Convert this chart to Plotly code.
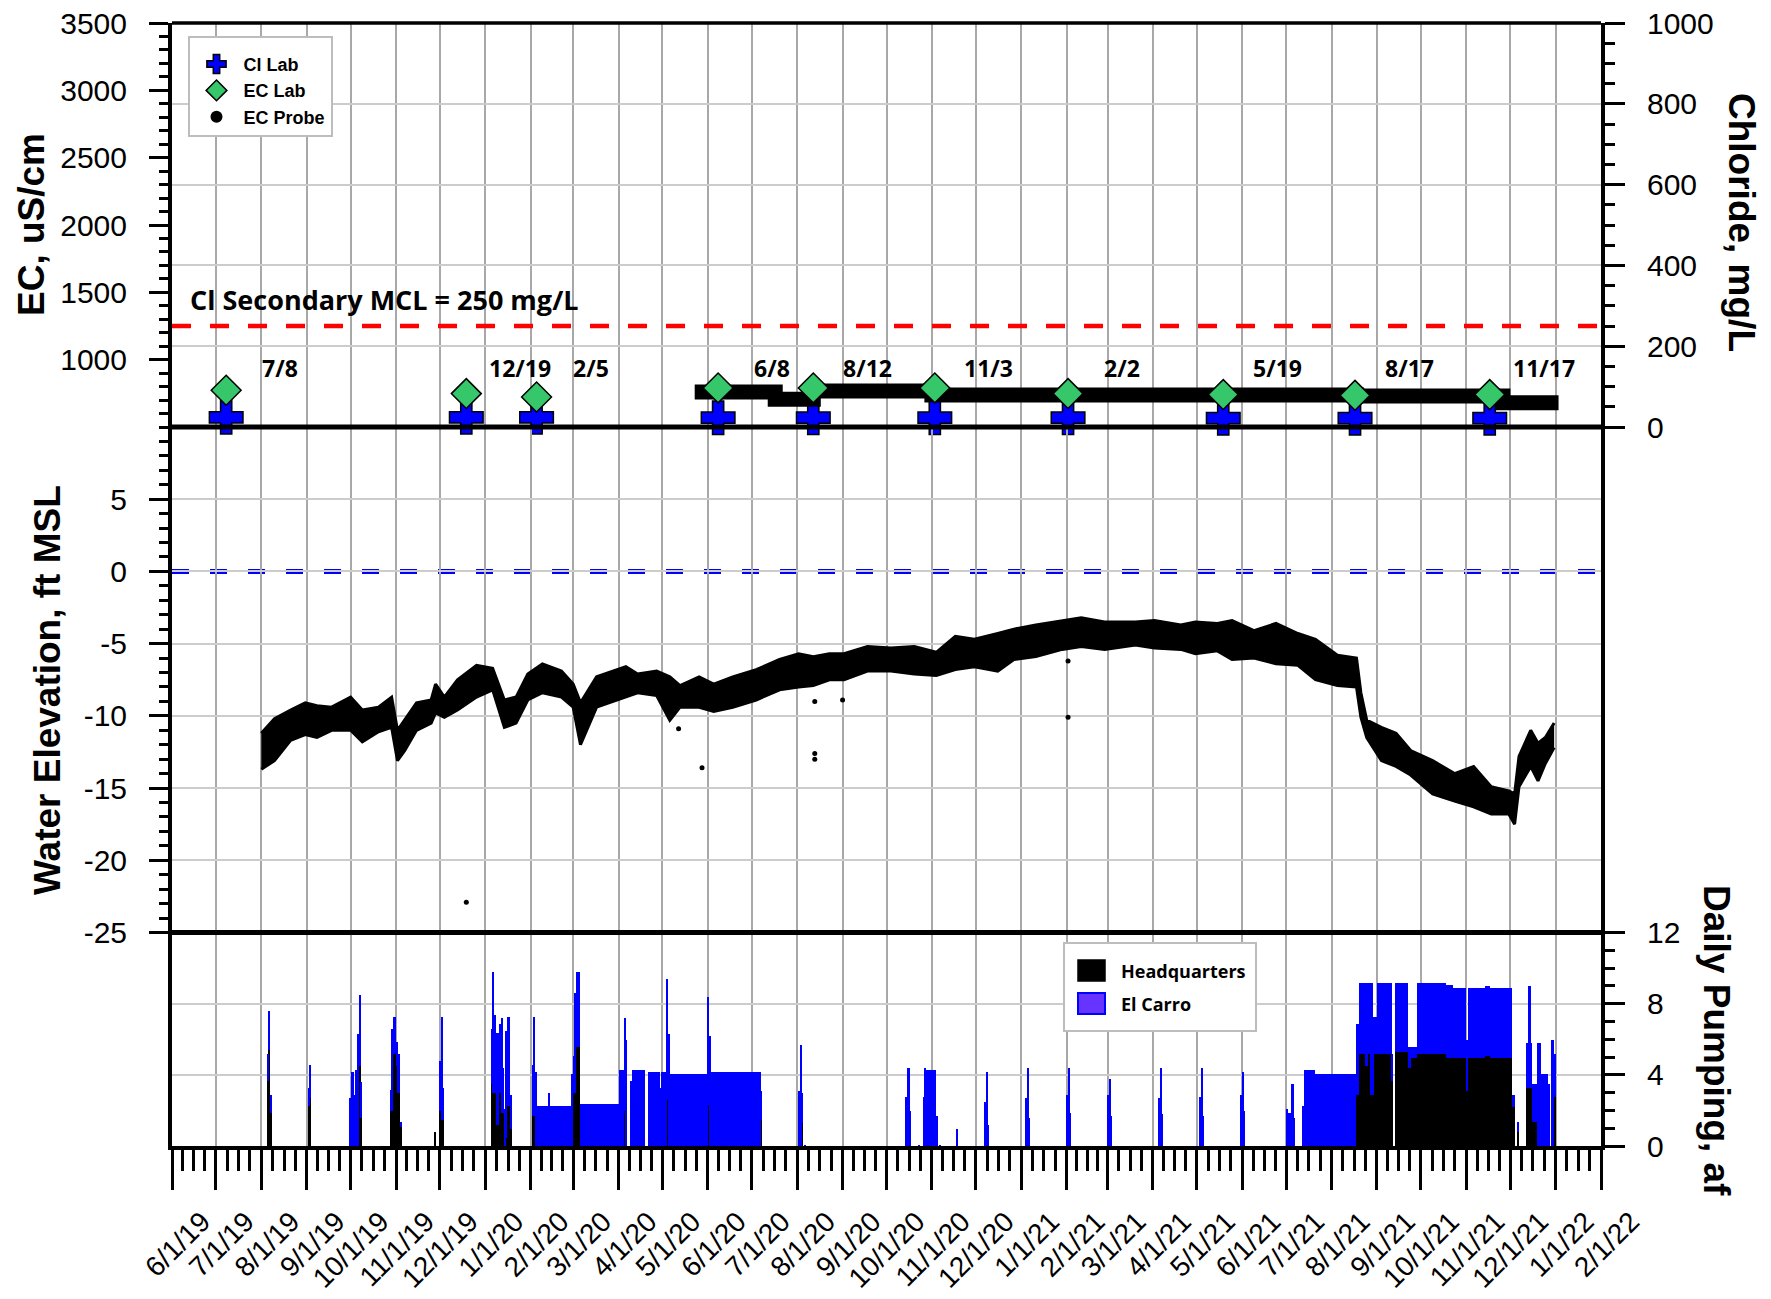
import pandas as pd
import plotly.graph_objects as go

# ---------------- data ----------------
sample_dates = ["2019-07-08", "2019-12-19", "2020-02-05", "2020-06-08", "2020-08-12",
                "2020-11-03", "2021-02-02", "2021-05-19", "2021-08-17", "2021-11-17"]
sample_labels = ["7/8", "12/19", "2/5", "6/8", "8/12", "11/3", "2/2", "5/19", "8/17", "11/17"]
cl_lab_mgL = [24, 24, 24, 23, 23, 23, 23, 22, 22, 22]
ec_lab_uScm = [773, 748, 723, 790, 790, 790, 748, 741, 735, 741]

ec_probe_dates = ["2020-05-23", "2020-07-17", "2020-08-12", "2020-11-01",
                  "2021-08-18", "2021-11-26", "2022-01-03"]
ec_probe_uScm = [760, 706, 767, 738, 730, 681, 681]

cl_secondary_mcl = 250
sea_level_ft = 0

wl_dates = ["2019-08-01", "2019-08-10", "2019-08-21", "2019-08-31", "2019-09-08", "2019-09-18",
            "2019-10-01", "2019-10-09", "2019-10-20", "2019-10-29", "2019-11-02", "2019-11-07",
            "2019-11-15", "2019-11-25", "2019-11-28", "2019-12-04", "2019-12-13", "2019-12-26",
            "2020-01-06", "2020-01-14", "2020-01-22", "2020-01-30", "2020-02-09", "2020-02-22",
            "2020-03-01", "2020-03-06", "2020-03-17", "2020-04-06", "2020-04-14", "2020-04-27",
            "2020-05-06", "2020-05-13", "2020-05-26", "2020-06-05", "2020-06-18", "2020-07-04",
            "2020-07-20", "2020-08-02", "2020-08-12", "2020-08-23", "2020-09-02", "2020-09-18",
            "2020-10-04", "2020-10-20", "2020-11-04", "2020-11-17", "2020-11-30", "2020-12-16",
            "2020-12-27", "2021-01-11", "2021-01-29", "2021-02-11", "2021-02-27", "2021-03-20",
            "2021-04-02", "2021-04-20", "2021-04-30", "2021-05-15", "2021-05-25", "2021-06-09",
            "2021-06-24", "2021-07-09", "2021-07-21", "2021-08-05", "2021-08-18", "2021-08-21",
            "2021-08-25", "2021-09-04", "2021-09-14", "2021-09-24", "2021-10-09", "2021-10-24",
            "2021-11-06", "2021-11-18", "2021-11-30", "2021-12-04", "2021-12-07", "2021-12-15",
            "2021-12-20", "2021-12-25", "2021-12-31"]
wl_top_ft = [-11.2, -10.2, -9.6, -9.1, -9.3, -9.4, -8.7, -9.6, -9.4, -8.7, -11.0, -10.3,
             -9.1, -8.9, -7.8, -8.7, -7.5, -6.5, -6.7, -8.9, -8.7, -7.1, -6.4, -6.9,
             -7.8, -9.1, -7.3, -6.6, -7.1, -6.9, -7.3, -7.9, -7.3, -7.8, -7.3, -6.8,
             -6.1, -5.7, -5.9, -5.7, -5.7, -5.2, -5.3, -5.2, -5.6, -4.5, -4.7, -4.3,
             -4.0, -3.7, -3.4, -3.2, -3.5, -3.5, -3.4, -3.7, -3.5, -3.6, -3.4, -4.1,
             -3.6, -4.3, -4.7, -5.8, -6.0, -8.4, -10.3, -10.8, -11.2, -12.4, -13.1, -14.0,
             -13.5, -14.9, -15.2, -15.4, -12.8, -11.0, -11.9, -11.5, -10.5]
wl_bottom_ft = [-13.7, -13.1, -11.7, -11.3, -11.5, -11.0, -11.0, -11.8, -11.1, -10.8, -13.1, -12.4,
                -11.0, -10.5, -9.8, -10.1, -9.6, -8.7, -8.2, -10.8, -10.5, -8.9, -8.4, -8.7,
                -9.4, -12.0, -9.4, -8.7, -8.4, -8.6, -10.3, -9.4, -9.4, -9.7, -9.4, -8.9,
                -8.2, -8.0, -7.9, -7.5, -7.5, -6.9, -6.9, -7.1, -7.2, -6.8, -6.6, -6.9,
                -6.1, -5.9, -5.4, -5.2, -5.4, -5.1, -5.3, -5.4, -5.7, -5.5, -6.1, -6.0,
                -6.4, -6.5, -7.5, -7.9, -8.0, -10.1, -11.5, -13.1, -13.5, -14.1, -15.4, -15.9,
                -16.3, -16.8, -16.8, -17.5, -14.9, -13.5, -14.5, -13.3, -12.2]
wl_outlier_dates = ["2019-12-19", "2020-05-12", "2020-05-28", "2020-08-13", "2020-08-13",
                    "2020-08-13", "2020-09-01", "2021-02-02", "2021-02-02"]
wl_outlier_ft = [-22.9, -10.9, -13.6, -9.0, -12.6, -13.0, -8.9, -6.2, -10.1]

# daily pumping, grouped in runs: start date, number of days, af per day
pump_start = ["2019-08-05", "2019-08-06", "2019-08-07", "2019-09-02", "2019-09-03", "2019-09-30",
              "2019-10-01", "2019-10-03", "2019-10-04", "2019-10-06", "2019-10-07", "2019-10-08",
              "2019-10-28", "2019-10-29", "2019-10-30", "2019-11-01", "2019-11-02", "2019-11-04",
              "2019-11-27", "2019-12-01", "2019-12-02", "2019-12-03", "2020-01-05", "2020-01-06",
              "2020-01-07", "2020-01-08", "2020-01-10", "2020-01-12", "2020-01-13", "2020-01-14",
              "2020-01-15", "2020-01-16", "2020-01-18", "2020-02-02", "2020-02-03", "2020-02-04",
              "2020-02-05", "2020-02-13", "2020-02-14", "2020-02-29", "2020-03-01", "2020-03-02",
              "2020-03-03", "2020-03-06", "2020-04-01", "2020-04-05", "2020-04-06", "2020-04-09",
              "2020-04-10", "2020-04-21", "2020-04-29", "2020-04-30", "2020-05-04", "2020-05-05",
              "2020-05-06", "2020-06-01", "2020-06-02", "2020-06-03", "2020-07-07", "2020-08-02",
              "2020-08-03", "2020-08-04", "2020-08-06", "2020-10-14", "2020-10-15", "2020-10-17",
              "2020-10-23", "2020-10-26", "2020-10-27", "2020-10-28", "2020-11-04", "2020-11-06",
              "2020-11-18", "2020-12-07", "2020-12-08", "2020-12-09", "2021-01-04", "2021-01-05",
              "2021-01-06", "2021-02-01", "2021-02-02", "2021-02-03", "2021-03-01", "2021-03-02",
              "2021-03-03", "2021-04-05", "2021-04-06", "2021-04-07", "2021-05-03", "2021-05-04",
              "2021-05-05", "2021-05-31", "2021-06-01", "2021-06-02", "2021-07-01", "2021-07-02",
              "2021-07-04", "2021-07-06", "2021-07-12", "2021-07-13", "2021-07-21", "2021-08-18",
              "2021-08-20", "2021-08-24", "2021-08-26", "2021-08-27", "2021-08-29", "2021-08-30",
              "2021-09-01", "2021-09-11", "2021-09-12", "2021-09-13", "2021-09-22", "2021-09-24",
              "2021-09-28", "2021-10-18", "2021-10-23", "2021-11-01", "2021-11-02", "2021-11-14",
              "2021-11-17", "2021-12-02", "2021-12-06", "2021-12-12", "2021-12-13", "2021-12-15",
              "2021-12-16", "2021-12-19", "2021-12-22", "2021-12-27", "2021-12-29", "2021-12-31"]
pump_days = [1, 1, 1, 1, 1, 1,
             2, 1, 2, 1, 1, 1,
             1, 1, 2, 1, 2, 1,
             1, 1, 1, 1, 1, 1,
             1, 2, 2, 1, 1, 1,
             1, 2, 1, 1, 1, 1,
             8, 1, 15, 1, 1, 1,
             3, 26, 4, 1, 1, 1,
             9, 8, 1, 4, 1, 1,
             26, 1, 1, 34, 1, 1,
             1, 1, 1, 1, 2, 1,
             1, 1, 1, 7, 1, 1,
             1, 1, 1, 1, 1, 1,
             1, 1, 1, 1, 1, 1,
             1, 1, 1, 1, 1, 1,
             1, 1, 1, 1, 1, 2,
             2, 1, 1, 8, 28, 2,
             4, 2, 1, 2, 1, 2,
             10, 1, 1, 9, 2, 4,
             20, 5, 9, 1, 12, 3,
             15, 2, 1, 1, 2, 1,
             3, 3, 5, 1, 2, 1]
headquarters_af = [3.7, 5.4, 1.9, 2.3, 2.7, 0,
                   0, 0, 0, 0, 4.5, 1.6,
                   2.0, 2.0, 5.2, 4.5, 3.0, 1.1,
                   0.8, 2.0, 1.5, 1.5, 3.5, 3.0,
                   3.0, 1.2, 3.0, 1.9, 1.9, 0,
                   0.5, 2.3, 1.0, 1.7, 1.7, 0,
                   0, 0, 0, 0, 3.0, 3.0,
                   5.6, 0, 0, 2.0, 0, 0,
                   0, 0, 0, 0, 2.6, 0,
                   0, 2.3, 0, 0, 1.5, 0,
                   0, 1.3, 0, 0, 0, 0,
                   0, 0, 0, 0, 0, 0,
                   0, 0, 0, 0, 0, 0,
                   0, 0, 0, 0, 0, 0,
                   0, 0, 0, 0, 0, 0,
                   0, 0, 0, 0, 0, 0,
                   0, 0, 0, 0, 0, 2.9,
                   5.2, 4.5, 5.2, 2.9, 2.9, 5.2,
                   5.2, 3.7, 0, 5.3, 4.4, 5.0,
                   5.2, 5.0, 5.0, 3.1, 5.0, 5.1,
                   5.0, 2.2, 0.8, 3.3, 3.3, 3.3,
                   1.4, 0, 0, 0, 0, 2.8]
el_carro_af = [1.5, 2.2, 1.0, 1.0, 1.9, 2.7,
               4.2, 2.9, 4.3, 6.3, 4.0, 2.0,
               1.2, 4.6, 2.1, 1.4, 2.2, 0.3,
               0, 2.8, 5.8, 1.8, 3.1, 6.8,
               4.4, 5.2, 3.9, 5.3, 2.5, 2.1,
               6.0, 5.0, 1.9, 2.9, 5.6, 4.2,
               2.3, 3.0, 2.3, 4.1, 2.1, 5.6,
               4.2, 2.4, 4.3, 5.2, 6.0, 3.7,
               4.3, 4.2, 3.3, 4.2, 6.8, 6.3,
               4.1, 6.1, 6.2, 4.2, 1.6, 3.1,
               5.7, 1.7, 0.1, 2.8, 4.4, 2.0,
               0.1, 2.8, 4.4, 4.3, 1.7, 0.1,
               1.0, 2.5, 4.2, 1.2, 2.7, 4.4,
               1.6, 2.9, 4.4, 1.9, 2.9, 3.8,
               1.7, 2.7, 4.4, 1.8, 2.8, 4.4,
               1.7, 2.9, 4.2, 2.0, 2.1, 1.9,
               3.5, 1.6, 2.3, 4.3, 4.1, 4.0,
               4.0, 4.7, 4.0, 6.3, 4.4, 2.1,
               4.0, 1.5, 0, 3.9, 1.2, 0.6,
               4.0, 4.1, 3.9, 2.9, 3.9, 3.9,
               3.9, 0.7, 0.6, 2.5, 5.7, 2.5,
               2.1, 5.8, 4.1, 3.5, 6.0, 2.4]

ec_ticks = [1000, 1500, 2000, 2500, 3000, 3500]
cl_ticks = [0, 200, 400, 600, 800, 1000]
wl_ticks = [-25, -20, -15, -10, -5, 0, 5]
wl_ticktext = ["-25", "-20", "-15", "-10", "-5", "0", "5"]
pump_ticks = [0, 4, 8, 12]

# ---------------- geometry / styling ----------------
# the page body adds an 8 px margin, so the figure is made 8 px smaller and
# every page-pixel position below is converted with that offset
OFF = 8
W, H = 1771 - OFF, 1299 - OFF
ML, MT = 172 - OFF, 23 - OFF
MR, MB = 170, 153
PW, PH = W - ML - MR, H - MT - MB
Y_BOT = 1146  # page pixel of the bottom axis


def px_x(px):
    return (px - OFF - ML) / PW


def px_y(py):
    return (Y_BOT - py) / PH


dom_bottom = [0, px_y(932.5)]
dom_middle = [px_y(932.5), px_y(427)]
dom_top = [px_y(427), 1]

SANS = "Liberation Sans, Arial, sans-serif"
TICKFONT = dict(family=SANS, size=30, color="black")
TITLEFONT = dict(family=SANS, size=37, color="black", weight="bold")
LABELFONT = dict(family="Open Sans, sans-serif", size=23, color="black", weight="bold")

pump_centers = pd.to_datetime(pump_start) + pd.to_timedelta(pump_days, unit="D") / 2
pump_widths = [d * 86400000 for d in pump_days]

month_starts = pd.date_range("2019-06-01", "2022-02-01", freq="MS")
minor_x = []
for a, b in zip(month_starts[:-1], month_starts[1:]):
    for k in (1, 2, 3):
        minor_x.append((a + (b - a) * k / 4).strftime("%Y-%m-%d %H:%M"))

fig = go.Figure()

# ----- top panel -----
fig.add_trace(go.Scatter(x=ec_probe_dates, y=ec_probe_uScm, mode="lines", yaxis="y4",
                         line=dict(color="black", width=15, shape="hv"),
                         showlegend=False, hoverinfo="skip"))
fig.add_trace(go.Scatter(x=sample_dates, y=cl_lab_mgL, mode="markers", name="Cl Lab", yaxis="y",
                         marker=dict(symbol="cross", size=28, color="#0000FF",
                                     line=dict(color="black", width=1.5)),
                         cliponaxis=False, legendrank=1))
fig.add_trace(go.Scatter(x=sample_dates, y=ec_lab_uScm, mode="markers", name="EC Lab", yaxis="y4",
                         marker=dict(symbol="diamond", size=23, color="#36C76B",
                                     line=dict(color="black", width=1.5)),
                         cliponaxis=False, legendrank=2))
fig.add_trace(go.Scatter(x=[None], y=[None], mode="markers", name="EC Probe", yaxis="y4",
                         marker=dict(symbol="circle", size=12, color="black"), legendrank=3))

# ----- middle panel -----
fig.add_trace(go.Scatter(x=wl_dates, y=wl_bottom_ft, mode="lines", yaxis="y2",
                         line=dict(color="black", width=3), showlegend=False))
fig.add_trace(go.Scatter(x=wl_dates, y=wl_top_ft, mode="lines", yaxis="y2", fill="tonexty",
                         fillcolor="black", line=dict(color="black", width=3), showlegend=False))
fig.add_trace(go.Scatter(x=wl_outlier_dates, y=wl_outlier_ft, mode="markers", yaxis="y2",
                         marker=dict(color="black", size=5), showlegend=False))

# ----- bottom panel -----
fig.add_trace(go.Bar(x=pump_centers, y=headquarters_af, width=pump_widths, yaxis="y3",
                     name="Headquarters", marker=dict(color="black", line=dict(width=0)),
                     showlegend=False))
fig.add_trace(go.Bar(x=pump_centers, y=el_carro_af, width=pump_widths, yaxis="y3",
                     name="El Carro", marker=dict(color="#0000FF", line=dict(width=0)),
                     showlegend=False))

axis_common = dict(showline=True, linecolor="black", linewidth=4, ticks="outside",
                   tickcolor="black", tickwidth=3, zeroline=False, automargin=False,
                   ticklabeloverflow="allow")


def minor(t0, dt, ln):
    return dict(tickmode="linear", tick0=t0, dtick=dt, ticks="outside", ticklen=ln,
                tickwidth=3, tickcolor="black", showgrid=False)


fig.update_layout(
    width=W, height=H, margin=dict(l=ML, r=MR, t=MT, b=MB, autoexpand=False),
    paper_bgcolor="white", plot_bgcolor="white", barmode="stack", bargap=0,
    xaxis=dict(type="date", range=["2019-06-01", "2022-02-01"], anchor="y3",
               tickmode="linear", tick0="2019-06-01", dtick="M1", tickformat="%-m/%-d/%y",
               tickangle=-45, ticklen=40, showgrid=True, gridcolor="#a8a8a8", gridwidth=1.5,
               mirror=False, ticklabelshift=30, ticklabelstandoff=4,
               minor=dict(tickmode="array", tickvals=minor_x, ticks="outside", ticklen=21,
                          tickwidth=3, tickcolor="black", showgrid=False),
               tickfont=dict(family=SANS, size=28, color="black"),
               **axis_common),
    yaxis=dict(domain=dom_top, range=[0, 1000], side="right", anchor="x",
               tickmode="array", tickvals=cl_ticks, ticklen=20,
               showgrid=True, gridcolor="#cccccc", gridwidth=2, ticklabelstandoff=16,
               minor=minor(0, 50, 10), tickfont=TICKFONT, **axis_common),
    yaxis4=dict(overlaying="y", range=[500, 3500], side="left", anchor="x",
                tickmode="array", tickvals=ec_ticks, ticklen=19,
                showgrid=False, ticklabelstandoff=16,
                minor=minor(500, 100, 9), tickfont=TICKFONT, **axis_common),
    yaxis2=dict(domain=dom_middle, range=[-25, 10], side="left", anchor="x", mirror=True,
                tickmode="array", tickvals=wl_ticks, ticktext=wl_ticktext, ticklen=19,
                showgrid=True, gridcolor="#cccccc", gridwidth=2, ticklabelstandoff=16,
                minor=minor(0, 1, 9), tickfont=TICKFONT, **axis_common),
    yaxis3=dict(domain=dom_bottom, range=[0, 12], side="right", anchor="x", mirror=True,
                tickmode="array", tickvals=pump_ticks, ticklen=20,
                showgrid=True, gridcolor="#cccccc", gridwidth=2, ticklabelstandoff=16,
                minor=minor(0, 1, 10), tickfont=TICKFONT, **axis_common),
    legend=dict(x=px_x(187.5), y=px_y(36), xanchor="left", yanchor="top",
                bgcolor="white", bordercolor="#bdbdbd", borderwidth=2, itemwidth=44,
                font=dict(family=SANS, size=18, color="black", weight="bold"),
                title=dict(text=" ", font=dict(size=6)),
                traceorder="normal"),
    showlegend=True,
)

# panel frame lines (top border and the two separators)
for yy, lw in ((1, 3.5), (dom_top[0], 5), (dom_middle[0], 5)):
    fig.add_shape(type="line", xref="paper", yref="paper", x0=0, x1=1, y0=yy, y1=yy,
                  line=dict(color="black", width=lw), layer="above")

# reference lines
fig.add_shape(type="line", xref="paper", x0=0, x1=1, yref="y", y0=cl_secondary_mcl,
              y1=cl_secondary_mcl, line=dict(color="#FF0000", width=4.5, dash="19px,19px"),
              layer="above")
fig.add_shape(type="line", xref="paper", x0=0, x1=1, yref="y2", y0=sea_level_ft,
              y1=sea_level_ft, line=dict(color="#0000FF", width=5, dash="17px,21px"),
              layer="below")

# bottom legend (drawn by hand)
fig.add_shape(type="rect", xref="paper", yref="paper", x0=px_x(1064), x1=px_x(1256),
              y0=px_y(1031), y1=px_y(943), line=dict(color="#bdbdbd", width=2),
              fillcolor="white", layer="above")
fig.add_shape(type="rect", xref="paper", yref="paper", x0=px_x(1078), x1=px_x(1105),
              y0=px_y(981), y1=px_y(960), line=dict(color="black", width=1.5),
              fillcolor="black", layer="above")
fig.add_shape(type="rect", xref="paper", yref="paper", x0=px_x(1078), x1=px_x(1105),
              y0=px_y(1014), y1=px_y(993), line=dict(color="#0000FF", width=2),
              fillcolor="#6633FF", layer="above")
for txt, yy in (("Headquarters", 970.5), ("El Carro", 1003.5)):
    fig.add_annotation(text=txt, xref="paper", yref="paper", x=px_x(1119), y=px_y(yy),
                       xanchor="left", yanchor="middle", showarrow=False,
                       font=dict(family="Open Sans, sans-serif", size=18, color="black",
                                 weight="bold"))

# sample date labels
for d, lab in zip(sample_dates, sample_labels):
    fig.add_annotation(text=lab, x=d, y=941, xref="x", yref="y4", xshift=54,
                       showarrow=False, xanchor="center", yanchor="middle", font=LABELFONT)

fig.add_annotation(text="Cl Secondary MCL = 250 mg/L", xref="paper", yref="y", x=px_x(187.5),
                   y=316, xanchor="left", yanchor="middle", showarrow=False,
                   font=dict(family="Open Sans, sans-serif", size=27, color="black",
                             weight="bold"))

# axis titles
fig.add_annotation(text="EC, uS/cm", xref="paper", yref="paper", x=px_x(31), y=px_y(225),
                   textangle=-90, showarrow=False, xanchor="center", yanchor="middle",
                   font=TITLEFONT)
fig.add_annotation(text="Water Elevation, ft MSL", xref="paper", yref="paper", x=px_x(47),
                   y=px_y(690), textangle=-90, showarrow=False, xanchor="center",
                   yanchor="middle", font=TITLEFONT)
fig.add_annotation(text="Chloride, mg/L", xref="paper", yref="paper", x=px_x(1741),
                   y=px_y(222), textangle=90, showarrow=False, xanchor="center",
                   yanchor="middle", font=TITLEFONT)
fig.add_annotation(text="Daily Pumping, af", xref="paper", yref="paper", x=px_x(1717),
                   y=px_y(1040), textangle=90, showarrow=False, xanchor="center",
                   yanchor="middle", font=TITLEFONT)

fig.write_html("out.html")
